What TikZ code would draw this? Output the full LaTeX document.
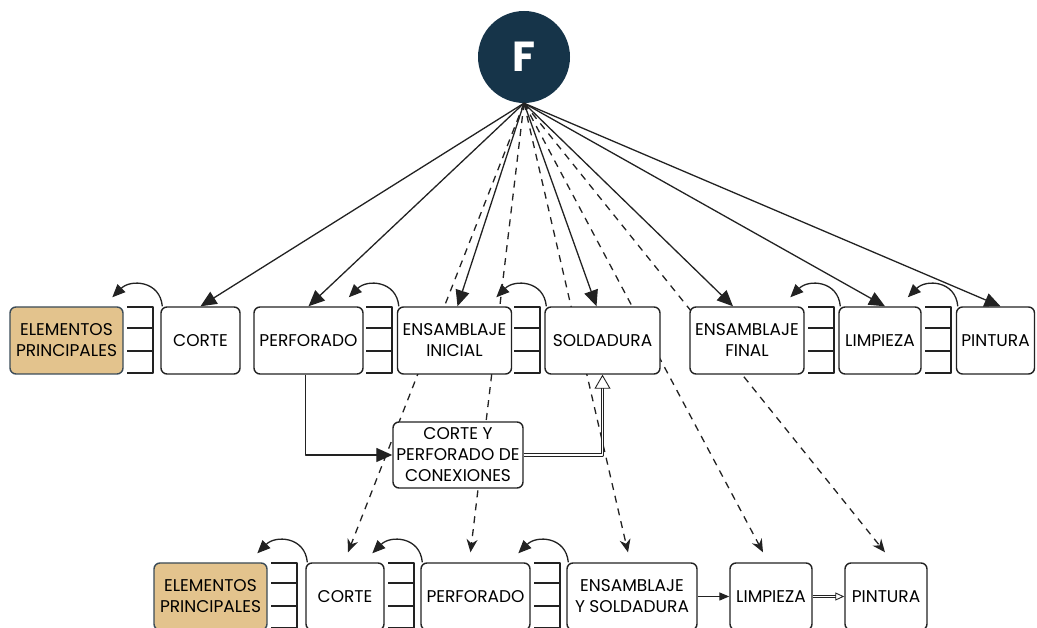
\documentclass[tikz,border=0pt]{standalone}
\usepackage{fontspec}
\setmainfont{Poppins}
\usetikzlibrary{arrows.meta,positioning,calc,backgrounds}

\definecolor{azulF}{HTML}{163449}
\definecolor{arena}{HTML}{E3C38D}
\definecolor{bordebase}{HTML}{3B4B57}
\definecolor{linea}{HTML}{222222}

\begin{document}
\begin{tikzpicture}[x=1pt, y=1pt, line join=round]
  \tikzstyle{etapa}=[rectangle, draw=linea, fill=white, line width=1.4pt, rounded corners=6pt, minimum height=67pt, inner sep=1pt, font=\fontsize{17}{21}\selectfont, align=center]
  \tikzstyle{base}=[etapa, fill=arena, draw=bordebase]
  \tikzstyle{flujo}=[-{Triangle[length=16pt,width=14pt]}, line width=1.3pt, draw=linea]
  \tikzstyle{alterno}=[-{Stealth[length=13pt,width=11pt]}, line width=1.3pt, draw=linea, dash pattern=on 7pt off 6pt]
  \tikzstyle{retorno}=[-{Triangle[length=13pt,width=11pt]}, line width=1.3pt, draw=linea]
  \tikzstyle{doble}=[double=white, double distance=1.6pt, line width=0.9pt, draw=linea]
  \tikzstyle{peldano}=[line width=1.4pt, draw=linea]

  \useasboundingbox (0,0) rectangle (1037,628);

  % Fuente
  \node[circle, fill=azulF, minimum size=92pt, text=white, font=\fontsize{42}{42}\selectfont\bfseries] (fab) at (524,571) {F};

  % Linea superior
  \node[base, minimum width=113pt] (elem1) at (66.5,287.5) {ELEMENTOS\\PRINCIPALES};
  \node[etapa, minimum width=79pt] (corte1) at (200.5,287.5) {CORTE};
  \node[etapa, minimum width=109pt] (perf1) at (308.5,287.5) {PERFORADO};
  \node[etapa, minimum width=114pt] (ensini) at (454.5,287.5) {ENSAMBLAJE\\INICIAL};
  \node[etapa, minimum width=115pt] (sold1) at (602.5,287.5) {SOLDADURA};
  \node[etapa, minimum width=114pt] (ensfin) at (747,287.5) {ENSAMBLAJE\\FINAL};
  \node[etapa, minimum width=82pt] (limp1) at (880,287.5) {LIMPIEZA};
  \node[etapa, minimum width=78pt] (pint1) at (995.5,287.5) {PINTURA};

  % Conexiones
  \node[etapa, minimum width=130pt, minimum height=66pt] (conex) at (458,173) {CORTE Y\\PERFORADO DE\\CONEXIONES};

  % Linea inferior
  \node[base, minimum width=113pt] (elem2) at (210.5,31.5) {ELEMENTOS\\PRINCIPALES};
  \node[etapa, minimum width=78pt] (corte2) at (345,31.5) {CORTE};
  \node[etapa, minimum width=109pt] (perf2) at (475.5,31.5) {PERFORADO};
  \node[etapa, minimum width=130pt] (enssold) at (632,31.5) {ENSAMBLAJE\\Y SOLDADURA};
  \node[etapa, minimum width=82pt] (limp2) at (771,31.5) {LIMPIEZA};
  \node[etapa, minimum width=82pt] (pint2) at (886,31.5) {PINTURA};

  % Almacenes entre etapas
  \foreach \xl in {127,366,514,808,925} {
    \draw[peldano] (\xl,321) -- (\xl+26,321) -- (\xl+26,255) -- (\xl,255);
    \draw[peldano] (\xl,300) -- (\xl+26,300) (\xl,277) -- (\xl+26,277);
  }
  \foreach \xl in {271,388,534} {
    \draw[peldano] (\xl,65) -- (\xl+26,65) -- (\xl+26,0) -- (\xl,0);
    \draw[peldano] (\xl,45) -- (\xl+26,45) (\xl,22) -- (\xl+26,22);
  }

  % Flujo principal
  \draw[flujo] (fab.south) -- (corte1.north);
  \draw[flujo] (fab.south) -- (perf1.north);
  \draw[flujo] (fab.south) -- ([xshift=3pt]ensini.north);
  \draw[flujo] (fab.south) -- ([xshift=-6pt]sold1.north);
  \draw[flujo] (fab.south) -- ([xshift=-14pt]ensfin.north);
  \draw[flujo] (fab.south) -- ([xshift=5pt]limp1.north);
  \draw[flujo] (fab.south) -- ([xshift=5pt]pint1.north);

  % Flujo alterno
  \begin{scope}[on background layer]
    \foreach \dst/\dx in {corte2/3, perf2/-5, enssold/-4, limp2/-8, pint2/-1}
      \draw[alterno] (fab.south) -- ([shift={(\dx pt,10pt)}]\dst.north);
  \end{scope}

  % Retornos
  \foreach \src in {corte1, ensini, sold1, limp1, pint1, corte2, perf2, enssold}
    \draw[retorno] ([xshift=2pt]\src.north west) to[out=95, in=45, looseness=1.3] ++(-50,9);

  % Piezas de conexion
  \draw[flujo] ([xshift=-3pt]perf1.south) |- (conex.west);
  \draw[doble, -{Triangle[open, length=14pt, width=16pt]}] (conex.east) -| (sold1.south);
  \draw[flujo, -{Triangle[length=10pt,width=8pt]}] (enssold) -- (limp2);
  \draw[doble, -{Triangle[open, length=9pt, width=8pt]}] (limp2) -- (pint2);
\end{tikzpicture}
\end{document}
